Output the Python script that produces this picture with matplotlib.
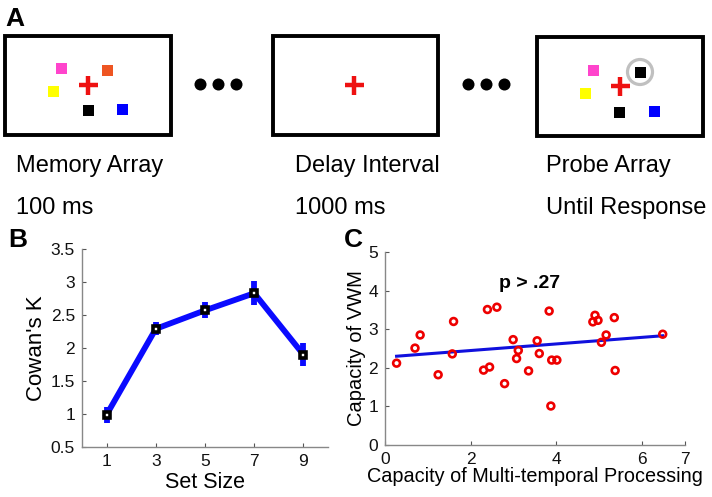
import numpy as np
import matplotlib
matplotlib.use("Agg")
import matplotlib.pyplot as plt
from matplotlib.patches import Rectangle, Circle

plt.rcParams['font.family'] = ['Liberation Sans', 'DejaVu Sans']

# ---------------- data ----------------
set_sizes = [1, 3, 5, 7, 9]
cowan_k = [0.99, 2.29, 2.57, 2.83, 1.90]
cowan_err = [0.12, 0.10, 0.12, 0.18, 0.18]

mtp_capacity = [0.27, 0.70, 0.82, 1.24, 1.57, 1.60, 2.30, 2.39, 2.44, 2.61,
                2.79, 2.99, 3.07, 3.11, 3.35, 3.55, 3.60, 3.83, 3.87, 3.89,
                4.01, 4.85, 4.90, 4.97, 5.05, 5.16, 5.35, 5.37, 6.48]
vwm_capacity = [2.12, 2.51, 2.85, 1.82, 2.36, 3.20, 1.94, 3.51, 2.02, 3.57,
                1.59, 2.73, 2.24, 2.45, 1.92, 2.70, 2.37, 3.47, 1.01, 2.20,
                2.20, 3.19, 3.36, 3.23, 2.66, 2.85, 3.30, 1.93, 2.87]
fit_start_end = [2.30, 2.83]

stage_titles = ["Memory Array", "Delay Interval", "Probe Array"]
stage_times = ["100 ms", "1000 ms", "Until Response"]

W, H = 712, 497
fig = plt.figure(figsize=(W / 100, H / 100), dpi=100)

# ---------------- panel A (pixel overlay) ----------------
axA = fig.add_axes([0, 0, 1, 1])
axA.set_xlim(0, W)
axA.set_ylim(H, 0)
axA.axis('off')

boxes = [(5, 36, 166, 99), (273, 36, 165, 99), (537, 37, 166, 99)]
for (x, y, w, h) in boxes:
    axA.add_patch(Rectangle((x, y), w, h, fill=False, ec='black', lw=2.8))

def square(cx, cy, color, s=11):
    axA.add_patch(Rectangle((cx - s / 2, cy - s / 2), s, s, color=color, lw=0))

def cross(cx, cy, s=19):
    axA.plot([cx - s / 2, cx + s / 2], [cy, cy], color='#ee1111', lw=3.2, solid_capstyle='butt')
    axA.plot([cx, cx], [cy - s / 2, cy + s / 2], color='#ee1111', lw=3.2, solid_capstyle='butt')

# box 1
square(61, 68, '#ff44cc')
square(107, 70, '#ee5522')
square(53, 91, '#ffff00')
square(88, 110, '#000000')
square(122, 109, '#0000ff')
cross(88, 85)
# box 2
cross(354, 85)
# box 3
square(593, 70, '#ff44cc')
square(585, 93, '#ffff00')
square(640, 72, '#000000')
axA.add_patch(Circle((640, 72), 12.5, fill=False, ec='#c0c0c0', lw=2.3))
square(619, 112, '#000000')
square(654, 111, '#0000ff')
cross(620, 86)

for xs in ([200, 218, 236], [468, 486, 504]):
    axA.scatter(xs, [84, 84, 84], s=75, color='black', lw=0)

text_x = [16, 295, 546]
for tx, t1, t2 in zip(text_x, stage_titles, stage_times):
    axA.text(tx, 166, t1, fontsize=17, ha='left', va='center')
    axA.text(tx, 208, t2, fontsize=17, ha='left', va='center')

axA.text(5, 19, "A", fontsize=19, fontweight='bold', ha='left', va='center')
axA.text(8, 240, "B", fontsize=19, fontweight='bold', ha='left', va='center')
axA.text(344, 240, "C", fontsize=19, fontweight='bold', ha='left', va='center')

def style_axes(ax):
    for side in ['top', 'right']:
        ax.spines[side].set_visible(False)
    for side in ['left', 'bottom']:
        ax.spines[side].set_color('#888888')
        ax.spines[side].set_linewidth(1.0)
    ax.tick_params(direction='in', length=3, color='#555555', labelsize=12.5,
                   labelcolor='#111111', pad=5)

# ---------------- panel B ----------------
axB = fig.add_axes([82 / W, (H - 447) / H, (328 - 82) / W, (447 - 249) / H])
axB.errorbar(set_sizes, cowan_k, yerr=cowan_err, color='#0a0aff', lw=4.2,
             elinewidth=4.2, capsize=0, marker='s', markersize=5,
             mfc='white', mec='black', mew=2.6, zorder=3)
axB.set_xlim(0, 10)
axB.set_ylim(0.5, 3.5)
axB.set_xticks(set_sizes)
axB.set_yticks([0.5, 1, 1.5, 2, 2.5, 3, 3.5])
axB.set_yticklabels(['0.5', '1', '1.5', '2', '2.5', '3', '3.5'])
style_axes(axB)
axB.set_xlabel("Set Size", fontsize=15.5, labelpad=2)
axB.set_ylabel("Cowan's K", fontsize=16, labelpad=3)

# ---------------- panel C ----------------
axC = fig.add_axes([385 / W, (H - 445) / H, 300 / W, (445 - 252) / H])
axC.scatter(mtp_capacity, vwm_capacity, s=24, facecolors='none',
            edgecolors='#ee0000', linewidths=1.9, zorder=3)
xs = [min(mtp_capacity), max(mtp_capacity)]
axC.plot(xs, fit_start_end, color='#1010dd', lw=2.2, zorder=2)
axC.set_xlim(0, 7)
axC.set_ylim(0, 5)
axC.set_xticks([0, 2, 4, 6, 7])
axC.set_yticks([0, 1, 2, 3, 4, 5])
style_axes(axC)
axC.set_xlabel("Capacity of Multi-temporal Processing", fontsize=14.3, labelpad=0)
axC.set_ylabel("Capacity of VWM", fontsize=14.5, labelpad=2)
axC.text(3.38, 4.19, "p > .27", fontsize=14, fontweight='bold', ha='center', va='center')

fig.savefig("out.png", dpi=100)
